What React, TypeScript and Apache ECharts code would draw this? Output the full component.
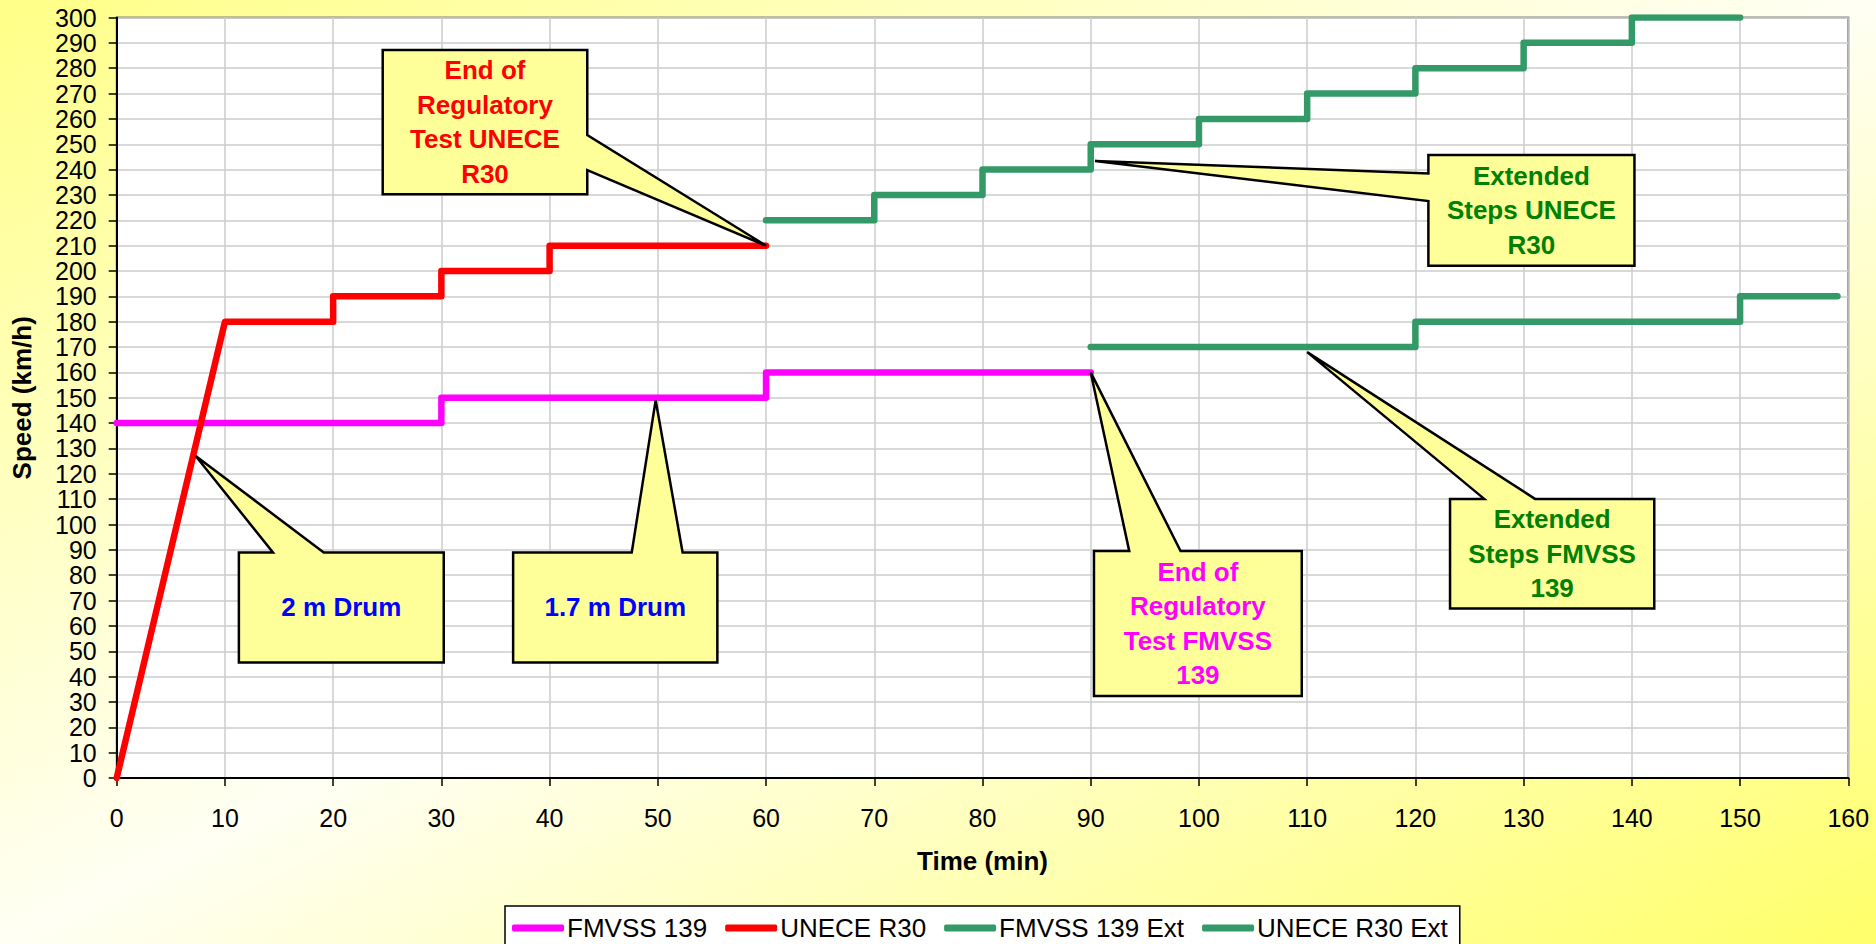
import React, { useEffect, useRef } from 'react';
import * as echarts from 'echarts';

// ---- data (time in min, speed in km/h) ----
const fmvss139: number[][] = [[0, 140], [30, 140], [30, 150], [60, 150], [60, 160], [90, 160]];
const uneceR30: number[][] = [[0, 0], [10, 180], [20, 180], [20, 190], [30, 190], [30, 200], [40, 200], [40, 210], [60, 210]];
const fmvss139Ext: number[][] = [[90, 170], [120, 170], [120, 180], [150, 180], [150, 190], [159, 190]];
const uneceR30Ext: number[][] = [
  [60, 220], [70, 220], [70, 230], [80, 230], [80, 240], [90, 240], [90, 250], [100, 250],
  [100, 260], [110, 260], [110, 270], [120, 270], [120, 280], [130, 280], [130, 290],
  [140, 290], [140, 300], [150, 300],
];
const seriesNames = ['FMVSS 139', 'UNECE R30', 'FMVSS 139 Ext', 'UNECE R30 Ext'];
const seriesColors = ['#ff00ff', '#ff0000', '#339966', '#339966'];

// ---- callout annotations (in data units) ----
const calloutTexts = [
  'End of\nRegulatory\nTest UNECE\nR30',
  'Extended\nSteps UNECE\nR30',
  '2 m Drum',
  '1.7 m Drum',
  'End of\nRegulatory\nTest FMVSS\n139',
  'Extended\nSteps FMVSS\n139',
];
const calloutColors = ['#ff0000', '#008000', '#0000ff', '#0000ff', '#ff00ff', '#008000'];
const calloutTips: number[][] = [[60, 210], [90.4, 243.4], [7.3, 127], [49.8, 149], [90, 160], [110, 168]];
const calloutLayout = [
  { box: [24.58, 230.3, 43.48, 287.2], side: 'right', base: [253.6, 239.8] },
  { box: [121.2, 202.1, 140.24, 245.8], side: 'left', base: [238.5, 227.6] },
  { box: [11.29, 45.6, 30.22, 89.0], side: 'top', base: [14.44, 19.13] },
  { box: [36.63, 45.6, 55.5, 89.0], side: 'top', base: [47.59, 52.29] },
  { box: [90.3, 32.3, 109.5, 89.5], side: 'top', base: [93.56, 98.3] },
  { box: [123.2, 66.9, 142.07, 110.1], side: 'top', base: [126.36, 131.05] },
];

const FONT = '"Liberation Sans", Arial, Helvetica, sans-serif';

export default function App() {
  const ref = useRef<HTMLDivElement>(null);

  useEffect(() => {
    const el = ref.current;
    if (!el) return;
    const chart = echarts.init(el, null, { renderer: 'svg' });
    const datasets = [fmvss139, uneceR30, fmvss139Ext, uneceR30Ext];

    chart.setOption({
      animation: false,
      backgroundColor: 'transparent',
      textStyle: { fontFamily: FONT },
      grid: {
        left: 116.7,
        right: 27.7,
        top: 17.5,
        bottom: 166,
        show: true,
        backgroundColor: '#ffffff',
        borderColor: '#808080',
        borderWidth: 2,
      },
      legend: {
        left: 505,
        top: 906,
        padding: [9, 12, 20, 7],
        itemGap: 18,
        itemWidth: 52,
        itemHeight: 7,
        icon: 'roundRect',
        backgroundColor: '#ffffff',
        borderColor: '#000000',
        borderWidth: 1.5,
        borderRadius: 0,
        textStyle: { fontSize: 26, color: '#000', fontFamily: FONT, padding: [0, 0, 0, -2] },
        data: seriesNames,
      },
      xAxis: {
        type: 'value',
        min: 0,
        max: 160,
        interval: 10,
        name: 'Time (min)',
        nameLocation: 'middle',
        nameGap: 70,
        nameTextStyle: { fontSize: 26, fontWeight: 'bold', color: '#000', fontFamily: FONT },
        axisLine: { show: true, onZero: false, lineStyle: { color: '#000', width: 2 } },
        axisTick: { show: true, length: 8, lineStyle: { color: '#000', width: 1.5 } },
        axisLabel: { fontSize: 25, color: '#000', margin: 27, fontFamily: FONT },
        splitLine: { show: true, lineStyle: { color: '#cccccc', width: 1.5 } },
      },
      yAxis: {
        type: 'value',
        min: 0,
        max: 300,
        interval: 10,
        name: 'Speed (km/h)',
        nameLocation: 'middle',
        nameGap: 82,
        nameTextStyle: { fontSize: 26, fontWeight: 'bold', color: '#000', fontFamily: FONT },
        axisLine: { show: true, onZero: false, lineStyle: { color: '#000', width: 2 } },
        axisTick: { show: true, length: 8, lineStyle: { color: '#000', width: 1.5 } },
        axisLabel: { fontSize: 25, color: '#000', margin: 20, fontFamily: FONT },
        splitLine: { show: true, lineStyle: { color: '#cccccc', width: 1.5 } },
      },
      series: datasets.map((d, i) => ({
        name: seriesNames[i],
        type: 'line',
        data: d,
        symbol: 'none',
        color: seriesColors[i],
        lineStyle: { color: seriesColors[i], width: 6.5, cap: 'round', join: 'round' },
        itemStyle: { color: seriesColors[i] },
        z: 2 + i,
      })),
    });

    const toPx = (p: number[]) => chart.convertToPixel({ gridIndex: 0 }, p) as number[];
    const elements: any[] = [];
    calloutLayout.forEach((c, i) => {
      const [L, T] = toPx([c.box[0], c.box[3]]);
      const [R, B] = toPx([c.box[2], c.box[1]]);
      const tip = toPx(calloutTips[i]);
      let pts: number[][];
      if (c.side === 'top') {
        const b1 = toPx([c.base[0], 0])[0];
        const b2 = toPx([c.base[1], 0])[0];
        pts = [[L, T], [b1, T], tip, [b2, T], [R, T], [R, B], [L, B]];
      } else if (c.side === 'right') {
        const a1 = toPx([0, c.base[0]])[1];
        const a2 = toPx([0, c.base[1]])[1];
        pts = [[L, T], [R, T], [R, a1], tip, [R, a2], [R, B], [L, B]];
      } else {
        const a1 = toPx([0, c.base[0]])[1];
        const a2 = toPx([0, c.base[1]])[1];
        pts = [[L, T], [R, T], [R, B], [L, B], [L, a2], tip, [L, a1]];
      }
      elements.push({
        type: 'polygon',
        z: 100,
        shape: { points: pts },
        style: { fill: '#ffff99', stroke: '#000', lineWidth: 2.5, lineJoin: 'miter' },
      });
      elements.push({
        type: 'text',
        z: 101,
        style: {
          text: calloutTexts[i],
          x: (L + R) / 2,
          y: (T + B) / 2,
          align: 'center',
          verticalAlign: 'middle',
          textAlign: 'center',
          textVerticalAlign: 'middle',
          fill: calloutColors[i],
          font: `bold 26px ${FONT}`,
          lineHeight: 34.5,
        },
      });
    });
    chart.setOption({ graphic: { elements } });

    return () => chart.dispose();
  }, []);

  return (
    <div
      ref={ref}
      style={{
        position: 'fixed',
        left: 0,
        top: 0,
        width: 1876,
        height: 944,
        background: 'linear-gradient(to bottom right, #ffff88 0%, #fffff4 50%, #ffff6a 100%)',
      }}
    />
  );
}
